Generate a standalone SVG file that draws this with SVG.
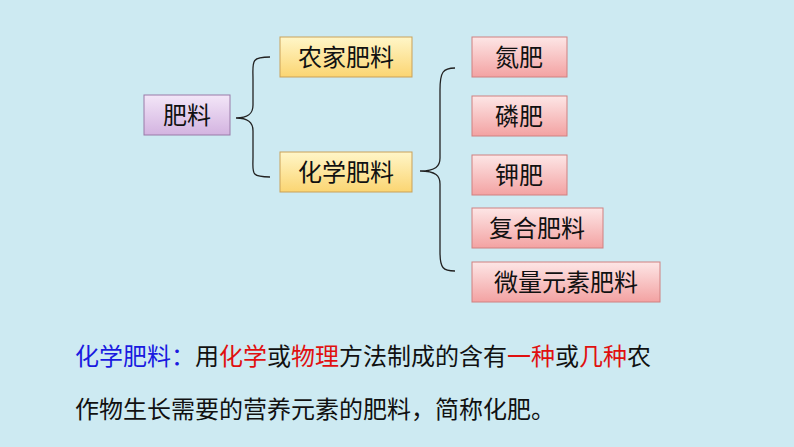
<svg xmlns="http://www.w3.org/2000/svg" width="794" height="447" viewBox="0 0 794 447">
<style>
text{font-family:"Noto Sans CJK SC",sans-serif;font-size:24px;fill:#111}
.b{stroke:#c9a15a;stroke-width:1}
.r{stroke:#d08080;stroke-width:1}
.c{fill:none;stroke:#222;stroke-width:1.3}
</style>
<defs>
<linearGradient id="y" x1="0" y1="0" x2="0" y2="1"><stop offset="0" stop-color="#fff6c8"/><stop offset="1" stop-color="#fbd572"/></linearGradient>
<linearGradient id="p" x1="0" y1="0" x2="0" y2="1"><stop offset="0" stop-color="#f3e6f8"/><stop offset="1" stop-color="#d3b3e0"/></linearGradient>
<linearGradient id="k" x1="0" y1="0" x2="0" y2="1"><stop offset="0" stop-color="#fde6e6"/><stop offset="1" stop-color="#f3a2a2"/></linearGradient>
</defs>
<rect width="794" height="447" fill="#cdeaf2"/>
<g id="connectors">
<path class="c" d="M270 57 C250 57 253 62 253 80 L253 105 C253 114 248 118 236 118 C248 118 253 122 253 131 L253 157 C253 173 250 177 270 177"/>
<path class="c" d="M455 68 C443 68 440 72 440 90 L440 158 C440 166 436 171 420 171 C436 171 440 176 440 184 L440 252 C440 268 443 271 455 271"/>
</g>
<g id="n0"><rect x="144" y="95" width="86" height="40" fill="url(#p)" stroke="#9a7aa8"/><text x="187" y="124" text-anchor="middle">肥料</text></g>
<g id="n1"><rect x="280" y="37" width="132" height="40" fill="url(#y)" class="b"/><text x="346" y="66" text-anchor="middle">农家肥料</text></g>
<g id="n2"><rect x="280" y="152" width="132" height="40" fill="url(#y)" class="b"/><text x="346" y="181" text-anchor="middle">化学肥料</text></g>
<g id="n3"><rect x="472" y="37" width="95" height="40" fill="url(#k)" class="r"/><text x="519" y="66" text-anchor="middle">氮肥</text></g>
<g id="n4"><rect x="472" y="96" width="95" height="40" fill="url(#k)" class="r"/><text x="519" y="125" text-anchor="middle">磷肥</text></g>
<g id="n5"><rect x="472" y="155" width="95" height="40" fill="url(#k)" class="r"/><text x="519" y="184" text-anchor="middle">钾肥</text></g>
<g id="n6"><rect x="472" y="208" width="131" height="40" fill="url(#k)" class="r"/><text x="537" y="237" text-anchor="middle">复合肥料</text></g>
<g id="n7"><rect x="472" y="262" width="188" height="40" fill="url(#k)" class="r"/><text x="566" y="291" text-anchor="middle">微量元素肥料</text></g>
<text x="75" y="365"><tspan fill="#1a1ae0">化学肥料：</tspan>用<tspan fill="#e01010">化学</tspan>或<tspan fill="#e01010">物理</tspan>方法制成的含有<tspan fill="#e01010">一种</tspan>或<tspan fill="#e01010">几种</tspan>农</text>
<text x="75" y="418">作物生长需要的营养元素的肥料，简称化肥。</text>
</svg>
